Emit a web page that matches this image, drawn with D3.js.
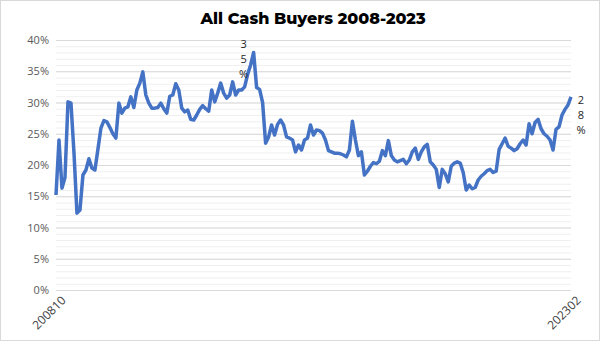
<!DOCTYPE html>
<html lang="en">
<head>
    <meta charset="utf-8" />
    <title>All Cash Buyers</title>
    <script src="https://d3js.org/d3.v7.min.js"></script>
    <style>
        body { margin: 0; background: #fff; }
        * { font-family: 'Open Sans', sans-serif; }
    </style>
</head>
<body>
    <div id="chart"></div>
    <script>
        // monthly share of all-cash buyers, 2008-10 .. 2023-02
        var cashShare = [
            15.2, 24.0, 16.3, 18.0, 30.1, 29.9, 22.0, 12.3, 12.8, 18.4,
            19.2, 21.0, 19.5, 19.2, 22.5, 25.9, 27.1, 26.9, 26.0, 25.0,
            24.3, 29.9, 28.3, 29.1, 29.3, 30.9, 29.2, 32.0, 33.1, 34.9,
            31.2, 29.9, 29.1, 29.1, 29.2, 29.9, 29.0, 28.3, 31.0, 31.2,
            33.0, 32.0, 29.1, 28.5, 28.8, 27.3, 27.2, 28.0, 28.9, 29.5,
            29.0, 28.6, 32.0, 30.1, 31.5, 33.1, 31.5, 30.7, 31.2, 33.3,
            31.2, 32.0, 32.0, 32.5, 34.5, 36.0, 38.0, 32.4, 32.1, 30.0,
            23.5, 24.5, 26.4, 24.8, 26.5, 27.2, 26.4, 24.5, 24.3, 24.0,
            22.1, 23.2, 22.4, 24.0, 24.3, 26.4, 24.8, 25.6, 25.5, 25.1,
            24.0, 22.3, 22.1, 21.9, 21.9, 21.8, 21.6, 21.3, 22.4, 27.0,
            24.0, 21.5, 22.1, 18.4, 19.0, 19.8, 20.4, 20.2, 20.6, 22.3,
            21.5, 23.9, 21.5, 20.8, 20.5, 20.7, 20.9, 20.2, 20.8, 22.1,
            22.7, 20.9, 22.1, 22.9, 23.3, 20.5, 20.0, 19.3, 16.4, 19.3,
            18.6, 17.3, 19.8, 20.3, 20.5, 20.3, 18.8, 16.0, 16.8, 16.2,
            16.4, 17.6, 18.2, 18.6, 19.1, 19.3, 18.8, 19.0, 22.5, 23.4,
            24.3, 23.0, 22.7, 22.3, 22.6, 23.4, 24.0, 23.2, 26.6, 25.0,
            26.8, 27.3, 25.8, 25.0, 24.6, 24.0, 22.4, 25.7, 26.1, 28.0,
            28.9, 29.6, 30.9
        ];
        var firstMonth = "200810";
        var lastMonth = "202302";
        var yTicks = [0, 0.05, 0.10, 0.15, 0.20, 0.25, 0.30, 0.35, 0.40];
        // data labels shown on the chart: [month index, text]
        var calloutIndex = [66, 172];
        var calloutText = ["35%", "28%"];

        var W = 600, H = 341;
        var parseM = d3.timeParse("%Y%m"), fmtM = d3.timeFormat("%Y%m");
        var months = d3.timeMonth.range(parseM(firstMonth), d3.timeMonth.offset(parseM(lastMonth), 1)).map(fmtM);
        var data = months.map(function (m, i) { return { month: m, value: cashShare[i] / 100 }; });

        var svg = d3.select("#chart").append("svg")
            .attr("width", W).attr("height", H);

        svg.append("rect")
            .attr("x", 0.5).attr("y", 0.5)
            .attr("width", W - 1).attr("height", H - 1)
            .attr("fill", "#fff").attr("stroke", "#d9d9d9");

        var x = d3.scalePoint().domain(months).range([56, 571]);
        var y = d3.scaleLinear().domain([0, 0.40]).range([290, 40]);

        // minor grid (every 1%)
        svg.append("g")
            .attr("transform", "translate(56,0)")
            .call(d3.axisLeft(y).tickValues(d3.range(0, 0.4001, 0.01)).tickSize(-515).tickFormat(""))
            .call(function (g) {
                g.select(".domain").remove();
                g.selectAll("line").attr("stroke", "#efefef").attr("stroke-width", 1);
            });

        // major grid + labels
        svg.append("g")
            .attr("transform", "translate(56,0)")
            .call(d3.axisLeft(y).tickValues(yTicks).tickSize(-515).tickPadding(7).tickFormat(d3.format(".0%")))
            .call(function (g) {
                g.select(".domain").remove();
                g.selectAll("line").attr("stroke", "#d9d9d9").attr("stroke-width", 1);
                g.selectAll("text").attr("fill", "#595959").style("font-size", "11px");
            });

        // x axis: only first and last month
        svg.append("g")
            .attr("transform", "translate(0,292)")
            .call(d3.axisBottom(x).tickValues([firstMonth, lastMonth]).tickSize(0))
            .call(function (g) {
                g.select(".domain").remove();
                g.selectAll("text")
                    .attr("fill", "#404040")
                    .style("font-size", "12px")
                    .attr("text-anchor", "end")
                    .attr("dy", "0.35em")
                    .attr("transform", "translate(5,4) rotate(-45)");
            });

        var line = d3.line()
            .x(function (d) { return x(d.month); })
            .y(function (d) { return y(d.value); });

        svg.append("path")
            .datum(data)
            .attr("d", line)
            .attr("fill", "none")
            .attr("stroke", "#4472c4")
            .attr("stroke-width", 3.5)
            .attr("stroke-linejoin", "round");

        // callout labels, wrapped one character per line like the original
        var offs = [[-10, -5], [10, 7]];
        calloutIndex.forEach(function (idx, k) {
            var d = data[idx];
            var t = svg.append("text")
                .attr("x", x(d.month) + offs[k][0])
                .attr("y", y(d.value) + offs[k][1])
                .attr("text-anchor", "middle")
                .attr("fill", "#262626")
                .style("font-size", "11px");
            calloutText[k].split("").forEach(function (ch, j) {
                t.append("tspan")
                    .attr("x", x(d.month) + offs[k][0])
                    .attr("dy", j === 0 ? 0 : 15)
                    .text(ch);
            });
        });

        svg.append("text")
            .attr("x", 313).attr("y", 24)
            .attr("text-anchor", "middle")
            .attr("fill", "#000")
            .style("font-family", "Montserrat, Inter, sans-serif")
            .style("font-weight", 800)
            .style("font-size", "16px")
            .text("All Cash Buyers 2008-2023");
    </script>
</body>
</html>
